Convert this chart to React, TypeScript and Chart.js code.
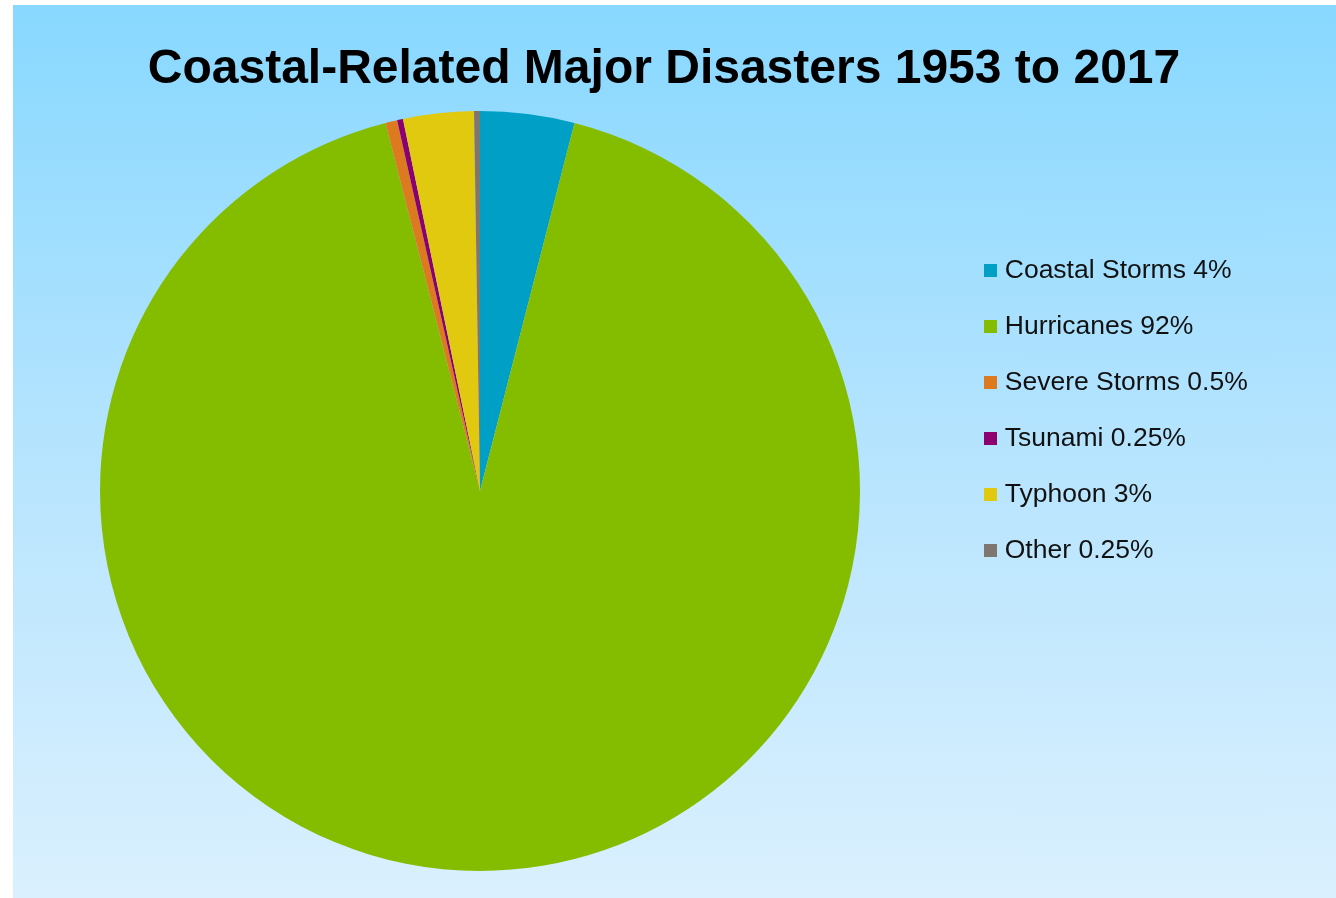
import React, { useEffect, useRef } from "react";
import { Chart, registerables } from "chart.js";

Chart.register(...registerables);

const TITLE = "Coastal-Related Major Disasters 1953 to 2017";
const categories = ["Coastal Storms", "Hurricanes", "Severe Storms", "Tsunami", "Typhoon", "Other"];
const percentages = [4, 92, 0.5, 0.25, 3, 0.25];
const sliceColors = ["#00A0C6", "#84BD00", "#DD7A1F", "#8B006E", "#E1C90F", "#7F7670"];

const FONT = "'Liberation Sans', Arial, Helvetica, sans-serif";

const legendBoxWidth = {
  id: "legendBoxWidth",
  beforeLayout(chart: any, _args: any, opts: any) {
    const lg = chart.legend;
    if (lg && !lg.__wrapped) {
      const orig = lg.fit;
      lg.fit = function (...a: any[]) {
        orig.apply(this, a);
        if (opts && opts.width) this.width = opts.width;
      };
      lg.__wrapped = true;
    }
  },
};

function makeSwatch(color: string, size: number) {
  const c = document.createElement("canvas");
  c.width = size;
  c.height = size;
  const g = c.getContext("2d")!;
  g.fillStyle = color;
  g.fillRect(0, 0, size, size);
  return c;
}

export default function App() {
  const ref = useRef<HTMLCanvasElement | null>(null);

  useEffect(() => {
    if (!ref.current) return;
    const swatches = sliceColors.map((c) => makeSwatch(c, 13));
    const labels = categories.map((c, i) => `${c} ${percentages[i]}%`);
    const chart = new Chart(ref.current, {
      type: "pie",
      data: {
        labels,
        datasets: [
          {
            data: percentages,
            backgroundColor: sliceColors,
            borderWidth: 0,
            offset: 0,
            hoverOffset: 0,
          },
        ],
      },
      plugins: [legendBoxWidth],
      options: {
        responsive: false,
        animation: false,
        events: [],
        layout: { padding: { left: 0, right: 8, top: 0, bottom: 27 } },
        plugins: {
          legendBoxWidth: { width: 368 },
          tooltip: { enabled: false },
          title: {
            display: true,
            text: TITLE,
            color: "#000000",
            font: { family: FONT, size: 48, weight: "bold", lineHeight: 1.2 },
            padding: { top: 41, bottom: 12.4 },
          },
          legend: {
            display: true,
            position: "right",
            align: "start",
            fullSize: false,
            title: { display: true, text: "", font: { size: 10, lineHeight: 1 }, padding: { top: 107, bottom: 0 } },
            labels: {
              font: { family: FONT, size: 26.5 },
              color: "#111111",
              padding: 29.5,
              usePointStyle: true,
              pointStyleWidth: 2,
              textAlign: "left",
              generateLabels: () =>
                labels.map((text, i) => ({
                  text,
                  fillStyle: sliceColors[i],
                  strokeStyle: sliceColors[i],
                  lineWidth: 0,
                  pointStyle: swatches[i],
                  fontColor: "#111111",
                  hidden: false,
                  index: i,
                })),
            },
          },
        },
      } as any,
    });
    return () => chart.destroy();
  }, []);

  return (
    <div style={{ position: "absolute", left: 0, top: 0, width: 1336, height: 898 }}>
      <div
        style={{
          position: "absolute",
          left: 13,
          top: 5,
          width: 1323,
          height: 893,
          background: "linear-gradient(to bottom, #88D8FF 0%, #B6E4FE 50%, #DAF0FE 100%)",
        }}
      />
      <canvas ref={ref} width={1336} height={898} style={{ position: "absolute", left: 0, top: 0, width: 1336, height: 898 }} />
    </div>
  );
}
